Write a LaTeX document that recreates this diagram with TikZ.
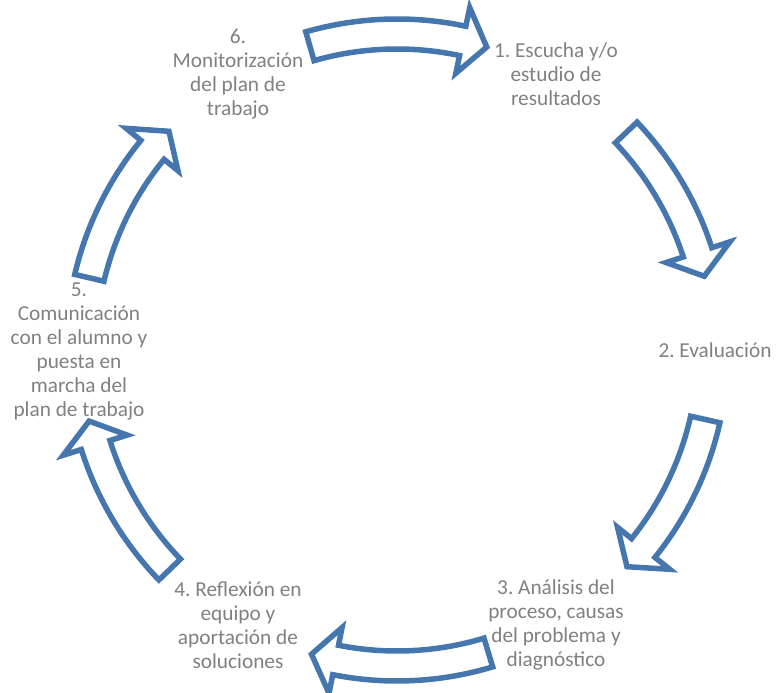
\documentclass[tikz,border=0pt]{standalone}
\usepackage{fontspec}
\setmainfont{Carlito}
\usetikzlibrary{positioning}
\frenchspacing

\definecolor{arrowblue}{RGB}{70,118,174}
\definecolor{textgray}{RGB}{128,128,128}

\begin{document}
\begin{tikzpicture}[
    steptext/.style={text=textgray, align=center, font=\fontsize{21.3}{24}\selectfont, inner sep=0pt},
    cyclearrow/.style={draw=arrowblue, fill=white, line width=5.5pt, line join=miter}]

    \useasboundingbox (0,0) rectangle (779pt,-693pt);
    \coordinate (C) at (397pt,-350pt);

    % block arrows between the steps
    \foreach \tail/\tip in {106/73.5, 43.5/13.5, -12.7/-43.3, -73.2/-105.7, -136/-167, 166.8/136.2}{
        \pgfmathsetmacro{\base}{\tip+4.5}
        \draw[cyclearrow, shift={(C)}] (\tail:331pt) arc[start angle=\tail, end angle=\base, radius=331pt]
            -- (\base:350pt) -- (\tip:316pt) -- (\base:283pt) -- (\base:301pt)
            arc[start angle=\base, end angle=\tail, radius=301pt] -- cycle;
    }

    % the six steps
    \node[steptext] (escucha) at ([shift={(60:318pt)}]C) {1. Escucha y/o\\estudio de\\resultados};
    \node[steptext] (evaluacion) at ([shift={(0:318pt)}]C) {2. Evaluación};
    \node[steptext] (analisis) at ([shift={(-60:318pt)}]C) {3. Análisis del\\proceso, causas\\del problema y\\diagnóstico};
    \node[steptext] (reflexion) at ([shift={(-120:318pt)}]C) {4. Reflexión en\\equipo y\\aportación de\\soluciones};
    \node[steptext] (comunicacion) at ([shift={(180:318pt)}]C) [yshift=-1pt] {5.\\Comunicación\\con el alumno y\\puesta en\\marcha del\\plan de trabajo};
    \node[steptext] (monitorizacion) at ([shift={(120:318pt)}]C) {6.\\Monitorización\\del plan de\\trabajo};
\end{tikzpicture}
\end{document}
